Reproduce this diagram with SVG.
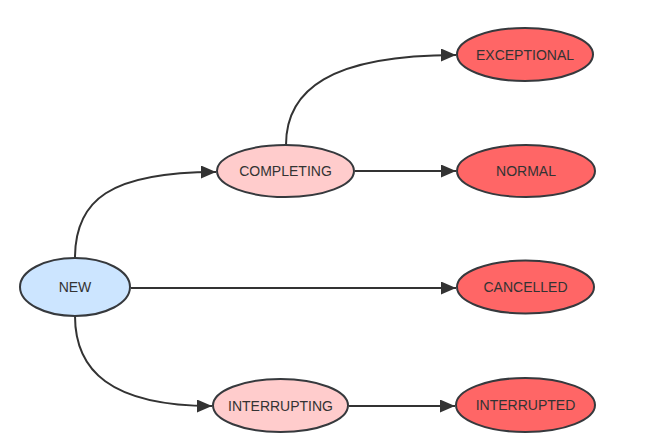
<svg xmlns="http://www.w3.org/2000/svg" width="654" height="444" viewBox="0 0 654 444">
<style>
.n ellipse{stroke:#36393d;stroke-width:2}
.blue{fill:#cce5ff}
.pink{fill:#ffcccc}
.red{fill:#ff6666}
.n text{font-family:"Liberation Sans",Arial,sans-serif;font-size:14px;fill:#333333;text-anchor:middle;dominant-baseline:central}
.e path{fill:none;stroke:#333333;stroke-width:2;marker-end:url(#arr)}
</style>
<defs>
<marker id="arr" markerUnits="userSpaceOnUse" markerWidth="16" markerHeight="14" refX="15" refY="6.5" orient="auto">
<path d="M0,0 L15,6.5 L0,13 z" fill="#333333"/>
</marker>
</defs>
<rect width="654" height="444" fill="#ffffff"/>
<g id="edges" class="e">
<path d="M75,258 C75,200 110,172 216,172"/>
<path d="M286,145 C286,90 330,55 456,55"/>
<path d="M355,171 L456,171"/>
<path d="M131,288 L456,288"/>
<path d="M75,316 C75,370 110,406 212,406"/>
<path d="M349,406 L455,406"/>
</g>
<g id="new" class="n"><ellipse class="blue" cx="75" cy="287" rx="55" ry="29"/><text x="75" y="287">NEW</text></g>
<g id="completing" class="n"><ellipse class="pink" cx="285.5" cy="171" rx="68.5" ry="26"/><text x="285.5" y="171">COMPLETING</text></g>
<g id="interrupting" class="n"><ellipse class="pink" cx="280.5" cy="405.5" rx="67.5" ry="26.5"/><text x="280.5" y="405.5">INTERRUPTING</text></g>
<g id="exceptional" class="n"><ellipse class="red" cx="525" cy="54.5" rx="68" ry="26.5"/><text x="525" y="54.5">EXCEPTIONAL</text></g>
<g id="normal" class="n"><ellipse class="red" cx="526" cy="171" rx="69" ry="26"/><text x="526" y="171">NORMAL</text></g>
<g id="cancelled" class="n"><ellipse class="red" cx="525.5" cy="287" rx="68.5" ry="26.5"/><text x="525.5" y="287">CANCELLED</text></g>
<g id="interrupted" class="n"><ellipse class="red" cx="525.5" cy="405" rx="69.5" ry="27"/><text x="525.5" y="405">INTERRUPTED</text></g>
</svg>
